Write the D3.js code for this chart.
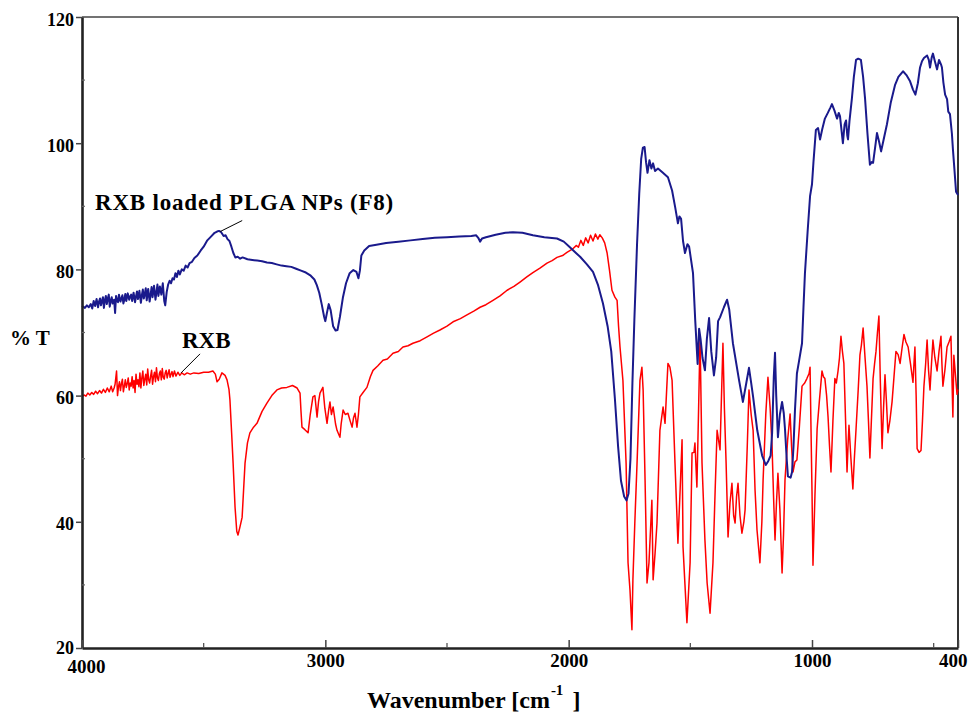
<!DOCTYPE html>
<html><head><meta charset="utf-8">
<script src="https://cdn.jsdelivr.net/npm/d3@7"></script>
<style>body{margin:0;background:#fff}svg{display:block}</style>
</head><body>
<svg id="chart" width="968" height="712"></svg>
<script>
// ---- data ----
const xMajorTicks = [4000, 3000, 2000, 1000, 400];
const xMinorTicks = [3500, 2500, 1500, 500];
const yMajorTicks = [20, 40, 60, 80, 100, 120];
const yMinorTicks = [30, 50, 70, 90, 110];
const seriesNames = ["RXB loaded PLGA NPs (F8)", "RXB"];
const xTitle = "Wavenumber [cm";
const yTitle = "% T";

// [wavenumber cm-1, %T]
const f8Spectrum = [
[4000,74.0],[3996,74.1],[3988,73.9],[3980,74.3],[3972,74.0],[3964,74.5],[3958,73.8],[3952,75.0],[3946,74.2],[3940,75.3],[3934,74.0],[3930,74.9],[3926,75.4],[3922,74.3],[3918,75.0],[3914,75.6],[3910,73.9],[3906,75.1],[3902,75.8],[3898,74.5],[3894,75.4],[3890,76.0],[3886,74.1],[3882,75.0],[3878,75.6],[3874,74.6],[3868,75.2],[3864,73.1],[3860,75.8],[3856,75.0],[3852,74.8],[3848,76.0],[3842,74.9],[3838,75.4],[3834,75.9],[3830,74.6],[3826,75.2],[3822,76.1],[3818,75.0],[3812,76.2],[3806,75.2],[3802,75.7],[3798,76.0],[3794,75.0],[3788,76.3],[3782,74.8],[3778,75.7],[3774,76.5],[3770,75.3],[3764,76.6],[3758,74.7],[3754,75.9],[3750,76.8],[3746,75.4],[3742,76.1],[3738,77.0],[3734,75.1],[3728,76.9],[3722,74.9],[3718,76.0],[3714,77.2],[3710,75.6],[3704,77.4],[3698,75.2],[3694,76.4],[3690,77.6],[3686,75.8],[3680,77.3],[3674,76.0],[3668,77.8],[3662,75.0],[3658,74.3],[3652,76.4],[3646,77.6],[3640,78.2],[3634,77.8],[3628,78.6],[3622,78.4],[3616,79.4],[3610,78.8],[3604,79.8],[3598,79.2],[3590,80.0],[3582,79.8],[3574,80.6],[3566,80.3],[3558,81.0],[3548,81.2],[3538,81.8],[3526,82.2],[3512,83.0],[3500,83.6],[3485,84.6],[3470,85.2],[3455,85.8],[3445,86.0],[3437,86.1],[3428,85.9],[3418,85.3],[3410,85.4],[3402,84.8],[3394,84.5],[3386,83.6],[3378,82.6],[3370,81.9],[3360,82.0],[3350,81.7],[3340,81.9],[3320,81.6],[3300,81.5],[3280,81.4],[3260,81.3],[3240,81.1],[3220,81.0],[3200,80.8],[3180,80.6],[3160,80.5],[3140,80.4],[3120,80.1],[3100,79.8],[3080,79.5],[3060,79.0],[3045,78.4],[3035,77.5],[3025,76.3],[3015,74.5],[3005,72.5],[3000,71.8],[2994,73.0],[2986,74.5],[2978,73.5],[2968,71.0],[2958,70.3],[2950,70.4],[2940,72.5],[2928,75.5],[2915,77.8],[2900,79.4],[2885,79.9],[2872,79.6],[2864,78.6],[2858,79.8],[2852,82.2],[2840,83.0],[2820,83.7],[2790,83.9],[2750,84.2],[2700,84.4],[2650,84.6],[2600,84.8],[2550,85.0],[2500,85.1],[2450,85.2],[2400,85.3],[2380,85.4],[2370,84.9],[2364,84.4],[2356,84.9],[2340,85.1],[2300,85.5],[2260,85.8],[2229,85.9],[2190,85.8],[2147,85.4],[2100,85.1],[2048,84.9],[2020,84.4],[1995,83.5],[1970,82.6],[1953,82.0],[1925,80.8],[1900,79.6],[1880,77.6],[1859,74.6],[1840,71.0],[1825,67.0],[1810,59.5],[1797,52.0],[1785,46.5],[1772,44.0],[1762,43.4],[1754,44.5],[1746,50.0],[1738,62.0],[1730,72.0],[1719,84.0],[1710,92.0],[1702,97.5],[1695,99.3],[1688,99.4],[1682,97.0],[1676,95.3],[1668,97.3],[1660,96.0],[1653,96.8],[1645,95.6],[1633,96.0],[1615,95.4],[1592,94.6],[1575,92.5],[1562,89.8],[1551,87.3],[1545,88.4],[1538,88.0],[1530,84.5],[1522,82.6],[1512,84.0],[1505,83.6],[1489,79.4],[1480,72.0],[1470,65.0],[1464,70.6],[1458,69.0],[1450,66.0],[1440,64.0],[1432,69.0],[1423,72.3],[1414,67.0],[1403,63.2],[1394,66.0],[1386,71.8],[1378,72.4],[1362,74.0],[1349,75.2],[1340,73.6],[1325,68.3],[1300,62.5],[1284,59.0],[1270,62.0],[1259,64.4],[1250,62.0],[1242,59.8],[1225,54.5],[1205,50.5],[1190,49.0],[1180,49.6],[1170,50.5],[1164,54.0],[1157,63.0],[1152,66.8],[1147,60.0],[1140,53.4],[1132,57.0],[1123,59.0],[1116,57.2],[1111,54.7],[1104,50.0],[1099,47.2],[1088,47.0],[1082,47.9],[1076,52.0],[1070,57.7],[1062,63.5],[1054,65.3],[1041,68.3],[1035,74.0],[1029,79.4],[1018,86.0],[1008,91.6],[1000,93.5],[994,97.0],[984,102.1],[975,102.4],[967,100.6],[958,102.2],[947,103.9],[935,104.8],[925,105.6],[918,106.2],[908,105.2],[897,103.9],[890,104.8],[885,104.3],[878,101.8],[873,100.0],[866,103.0],[860,103.6],[855,101.2],[852,100.6],[846,103.5],[836,107.1],[828,110.5],[819,113.2],[810,113.4],[799,113.2],[790,110.5],[782,107.1],[772,101.5],[762,96.6],[755,97.0],[749,96.9],[740,99.5],[733,101.6],[724,100.2],[716,98.7],[706,100.5],[692,103.0],[676,106.5],[659,109.2],[645,110.5],[626,111.4],[612,110.8],[597,109.8],[585,108.5],[575,107.7],[565,109.5],[556,112.0],[548,113.0],[540,113.5],[527,113.9],[520,113.2],[515,112.0],[508,113.6],[503,114.2],[495,113.0],[486,111.7],[478,113.2],[470,112.5],[466,112.0],[460,109.6],[453,107.7],[445,107.0],[440,105.0],[433,104.6],[425,101.5],[421,99.1],[415,96.0],[408,92.3],[400,91.8]
];

const rxbSpectrum = [
[4000,59.8],[3992,60.1],[3984,59.9],[3976,60.4],[3968,60.1],[3960,60.5],[3952,60.2],[3944,60.7],[3936,60.3],[3928,60.8],[3920,60.4],[3912,61.0],[3904,60.5],[3896,61.2],[3888,60.6],[3880,61.5],[3874,60.6],[3868,61.2],[3864,61.8],[3858,63.9],[3854,60.0],[3850,61.4],[3846,62.2],[3842,60.8],[3838,61.9],[3834,62.6],[3830,60.6],[3826,61.5],[3822,62.5],[3818,61.3],[3814,61.9],[3810,62.8],[3806,60.9],[3802,62.0],[3798,61.5],[3794,63.0],[3790,61.2],[3786,62.4],[3782,60.5],[3778,63.4],[3774,61.8],[3770,62.5],[3766,61.4],[3762,63.6],[3758,61.2],[3754,62.8],[3750,63.9],[3746,61.6],[3742,62.6],[3738,63.4],[3734,61.7],[3730,64.2],[3726,62.5],[3722,62.0],[3718,63.1],[3714,64.0],[3710,61.8],[3706,63.0],[3702,63.7],[3698,62.2],[3694,64.4],[3690,62.8],[3686,62.4],[3682,63.5],[3678,63.9],[3674,62.5],[3670,64.3],[3666,62.9],[3662,62.6],[3658,63.6],[3654,64.0],[3650,62.8],[3646,63.5],[3642,64.1],[3638,62.9],[3634,63.4],[3630,63.8],[3626,63.0],[3620,63.9],[3614,63.1],[3606,63.7],[3598,63.2],[3590,63.6],[3580,63.3],[3568,63.6],[3555,63.4],[3540,63.6],[3520,63.5],[3500,63.7],[3480,63.7],[3462,63.9],[3452,63.4],[3445,62.2],[3436,62.6],[3425,63.6],[3412,63.2],[3404,62.5],[3396,61.0],[3392,59.3],[3385,54.0],[3379,49.3],[3371,42.3],[3364,38.5],[3359,37.9],[3352,39.0],[3342,40.7],[3336,45.0],[3330,49.3],[3320,52.5],[3310,54.1],[3295,55.0],[3281,55.6],[3260,57.5],[3240,58.8],[3220,60.0],[3199,60.9],[3180,61.2],[3158,61.3],[3135,61.6],[3116,61.2],[3104,60.4],[3100,57.5],[3096,55.0],[3084,54.6],[3071,54.1],[3062,57.0],[3051,59.8],[3043,60.0],[3034,56.6],[3028,59.0],[3022,60.4],[3010,61.3],[3002,58.0],[2993,55.6],[2987,57.5],[2981,59.0],[2975,57.0],[2968,58.2],[2958,55.5],[2952,54.5],[2940,53.4],[2935,55.5],[2927,57.7],[2918,57.0],[2907,57.2],[2898,56.0],[2890,55.0],[2884,56.5],[2878,57.2],[2870,55.0],[2864,57.0],[2858,59.8],[2845,60.5],[2829,61.3],[2815,63.0],[2804,64.0],[2785,64.7],[2763,65.6],[2745,65.8],[2722,66.7],[2700,67.0],[2681,67.7],[2660,67.9],[2640,68.3],[2610,68.7],[2582,69.3],[2555,69.9],[2529,70.4],[2500,71.0],[2475,71.7],[2445,72.2],[2418,72.8],[2390,73.4],[2364,74.0],[2340,74.4],[2311,75.1],[2282,75.8],[2253,76.7],[2225,77.3],[2200,78.0],[2172,78.8],[2147,79.5],[2118,80.2],[2089,81.0],[2068,81.4],[2048,81.9],[2025,82.2],[2007,82.7],[1985,83.2],[1968,83.8],[1960,83.5],[1950,84.6],[1940,83.8],[1930,85.0],[1920,84.2],[1910,85.4],[1900,84.5],[1890,85.6],[1880,84.8],[1872,85.5],[1862,85.0],[1852,84.2],[1842,82.6],[1832,79.8],[1822,76.7],[1810,75.6],[1801,75.1],[1795,71.0],[1789,67.7],[1777,62.4],[1764,49.3],[1756,33.5],[1748,29.2],[1740,22.9],[1736,30.8],[1728,40.0],[1719,49.3],[1707,62.4],[1699,64.5],[1694,60.9],[1686,46.6],[1678,30.3],[1670,33.5],[1658,43.4],[1653,30.8],[1645,35.0],[1637,39.8],[1625,54.5],[1612,58.2],[1604,55.6],[1592,65.1],[1584,64.5],[1575,62.4],[1563,49.3],[1551,36.6],[1542,45.0],[1534,53.0],[1530,36.0],[1522,30.0],[1514,24.0],[1501,33.5],[1493,50.9],[1485,51.0],[1481,52.5],[1473,45.5],[1466,58.0],[1460,69.3],[1452,49.3],[1440,37.1],[1431,30.3],[1419,25.5],[1407,33.5],[1398,45.0],[1390,54.5],[1378,51.4],[1366,68.3],[1360,58.0],[1353,49.3],[1345,37.6],[1337,43.0],[1329,46.1],[1322,41.0],[1316,39.8],[1310,44.0],[1304,46.1],[1296,41.0],[1288,38.2],[1280,40.0],[1275,41.9],[1266,52.0],[1259,60.9],[1250,57.0],[1242,54.5],[1234,45.0],[1226,38.7],[1214,33.5],[1206,40.0],[1201,46.6],[1190,57.0],[1181,62.9],[1172,58.0],[1164,51.8],[1158,44.0],[1152,37.1],[1146,43.0],[1140,47.7],[1132,42.0],[1123,31.9],[1117,38.0],[1111,46.6],[1100,53.0],[1090,57.1],[1084,52.0],[1078,47.9],[1070,49.5],[1062,49.8],[1052,55.0],[1041,61.5],[1030,62.0],[1021,62.7],[1012,63.5],[1008,64.5],[1003,52.0],[1000,44.9],[996,33.1],[988,44.0],[979,54.7],[970,59.0],[959,63.9],[953,63.0],[947,62.7],[940,60.0],[934,56.6],[928,52.0],[922,47.9],[914,56.0],[906,62.7],[900,62.0],[893,63.9],[887,66.0],[881,69.4],[875,67.0],[869,65.1],[862,56.0],[856,47.9],[852,52.0],[848,55.3],[840,50.0],[832,45.2],[826,50.0],[819,54.7],[810,61.0],[803,66.4],[797,68.0],[790,70.7],[782,66.0],[774,61.5],[768,56.0],[762,50.1],[756,56.0],[749,62.7],[743,65.0],[737,67.0],[731,70.0],[725,72.6],[719,62.0],[712,51.6],[706,58.0],[700,63.3],[694,59.0],[688,54.1],[680,56.0],[671,59.0],[663,63.0],[655,67.0],[646,66.5],[638,65.1],[630,67.5],[622,69.7],[614,68.5],[605,67.7],[595,65.0],[585,62.1],[581,65.0],[577,67.7],[572,60.0],[568,51.6],[560,51.0],[552,51.3],[546,56.0],[540,61.5],[533,65.0],[527,68.8],[521,64.0],[515,60.9],[509,65.0],[503,68.8],[495,66.0],[486,63.9],[478,67.0],[470,69.4],[466,65.0],[462,61.5],[454,64.0],[445,67.7],[437,68.5],[429,69.4],[425,63.0],[421,56.6],[417,66.4],[410,63.0],[404,60.2],[400,61.0]
];

// ---- drawing ----
const svg = d3.select("#chart");
const L = 82, R = 958, T = 17, B = 648;
const FONT = "'Liberation Serif','Times New Roman',serif";
const x = d3.scaleLinear().domain([4000, 400]).range([L, R]);
const y = d3.scaleLinear().domain([20, 120]).range([B, T]);

// frame (top / right)
svg.append("line").attr("x1", L).attr("x2", R).attr("y1", T).attr("y2", T)
  .attr("stroke", "#444").attr("stroke-width", 1.6);
svg.append("line").attr("x1", R).attr("x2", R).attr("y1", T).attr("y2", B)
  .attr("stroke", "#333").attr("stroke-width", 2);

// spectra
const line = d3.line().x(d => x(d[0])).y(d => y(d[1]));
svg.append("path").datum(rxbSpectrum).attr("d", line)
  .attr("fill", "none").attr("stroke", "#ff0000").attr("stroke-width", 1.5)
  .attr("stroke-linejoin", "round");
svg.append("path").datum(f8Spectrum).attr("d", line)
  .attr("fill", "none").attr("stroke", "#1a1a8c").attr("stroke-width", 2)
  .attr("stroke-linejoin", "round");

// y axis
const gy = svg.append("g").attr("transform", `translate(${L},0)`)
  .call(d3.axisLeft(y).tickValues(yMajorTicks).tickFormat(d3.format("d"))
    .tickSize(6).tickSizeOuter(0).tickPadding(2));
gy.select(".domain").attr("stroke", "#222").attr("stroke-width", 2.6);
gy.selectAll(".tick line").attr("stroke", "#444").attr("stroke-width", 1.5);
gy.selectAll(".tick text").attr("font-family", FONT).attr("font-weight", "bold")
  .attr("font-size", 18).attr("fill", "#000").attr("dy", "0.45em");
gy.selectAll(".tick text").filter(d => d === 20).attr("dy", "0.3em");
gy.selectAll(".minor").data(yMinorTicks).enter().append("line")
  .attr("x1", 0).attr("x2", 3).attr("y1", d => y(d)).attr("y2", d => y(d))
  .attr("stroke", "#666").attr("stroke-width", 1.2);

// x axis
const gx = svg.append("g").attr("transform", `translate(0,${B})`)
  .call(d3.axisBottom(x).tickValues(xMajorTicks).tickFormat(d3.format("d"))
    .tickSizeInner(-8).tickSizeOuter(0).tickPadding(6));
gx.select(".domain").attr("stroke", "#222").attr("stroke-width", 2.6);
gx.selectAll(".tick line").attr("stroke", "#444").attr("stroke-width", 1.5);
gx.selectAll(".tick text").attr("font-family", FONT).attr("font-weight", "bold")
  .attr("font-size", 19).attr("fill", "#000");
gx.selectAll(".tick text").filter(d => d === 4000).attr("dy", "1.0em").attr("dx", 4);
gx.selectAll(".tick text").filter(d => d === 400).attr("text-anchor", "end").attr("dx", 9);
gx.selectAll(".minor").data(xMinorTicks).enter().append("line")
  .attr("x1", d => x(d)).attr("x2", d => x(d)).attr("y1", 0).attr("y2", -5)
  .attr("stroke", "#555").attr("stroke-width", 1.3);

// axis titles
svg.append("text").attr("x", 10).attr("y", 345)
  .attr("font-family", FONT).attr("font-weight", "bold").attr("font-size", 21)
  .text(yTitle);
const xt = svg.append("text").attr("x", 367).attr("y", 708)
  .attr("font-family", FONT).attr("font-weight", "bold").attr("font-size", 24);
xt.append("tspan").text(xTitle);
xt.append("tspan").attr("font-size", 15).attr("dy", -13).attr("dx", 1).text("-1");
xt.append("tspan").attr("dy", 13).attr("dx", 9).text("]");

// annotations
const peakF8 = [3432, 86.0];
const pointRXB = [3593, 63.6];
svg.append("line")
  .attr("x1", x(peakF8[0])).attr("y1", y(peakF8[1]))
  .attr("x2", x(peakF8[0]) + 22).attr("y2", y(peakF8[1]) - 11)
  .attr("stroke", "#000").attr("stroke-width", 1);
svg.append("line")
  .attr("x1", x(pointRXB[0])).attr("y1", y(pointRXB[1]))
  .attr("x2", x(pointRXB[0]) + 19).attr("y2", y(pointRXB[1]) - 19)
  .attr("stroke", "#000").attr("stroke-width", 1);
svg.append("text").attr("x", 95).attr("y", 210)
  .attr("font-family", FONT).attr("font-weight", "bold").attr("font-size", 23)
  .attr("letter-spacing", 0.8).text(seriesNames[0]);
svg.append("text").attr("x", 182).attr("y", 348)
  .attr("font-family", FONT).attr("font-weight", "bold").attr("font-size", 23)
  .text(seriesNames[1]);
</script>
</body></html>
